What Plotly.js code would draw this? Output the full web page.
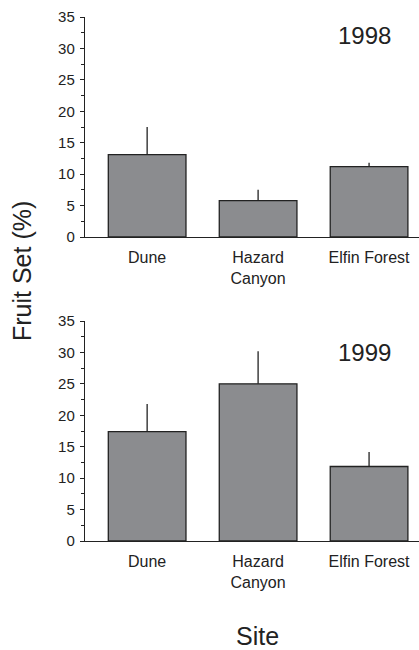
<!DOCTYPE html>
<html>
<head>
<meta charset="utf-8">
<script src="https://cdn.plot.ly/plotly-3.0.1.min.js"></script>
<style>html,body{margin:0;padding:0;background:#fff;}#chart{width:419px;height:650px;}</style>
</head>
<body>
<div id="chart"></div>
<script>
const sites = ["Dune", "Hazard<br>Canyon", "Elfin Forest"];
const fruitSet1998 = [13.1, 5.8, 11.2];
const err1998 = [4.4, 1.7, 0.6];
const fruitSet1999 = [17.4, 25.0, 11.85];
const err1999 = [4.4, 5.2, 2.3];
const yearLabels = ["1998", "1999"];
const yTicks = [0, 5, 10, 15, 20, 25, 30, 35];

const FONT = "Liberation Sans, Arial, Helvetica, sans-serif";
const barColor = "#8b8c8f";
const lineColor = "#222222";

function barTrace(vals, errs, xa, ya) {
  return {
    type: "bar",
    x: sites,
    y: vals,
    xaxis: xa,
    yaxis: ya,
    width: 0.7,
    marker: {color: barColor, line: {color: lineColor, width: 1.3}},
    error_y: {type: "data", symmetric: false, array: errs, arrayminus: errs.map(() => 0),
              color: lineColor, thickness: 1.3, width: 0},
    showlegend: false,
    hoverinfo: "none"
  };
}

const data = [
  barTrace(fruitSet1998, err1998, "x", "y"),
  barTrace(fruitSet1999, err1999, "x2", "y2")
];

function xAxis(anchor) {
  return {
    domain: [85/419, 1],
    anchor: anchor,
    type: "category",
    categoryorder: "array",
    categoryarray: sites,
    range: [-0.56, 2.45],
    showline: true,
    linecolor: lineColor,
    linewidth: 1.2,
    ticks: "",
    showgrid: false,
    zeroline: false,
    tickfont: {family: FONT, size: 16, color: "#222"},
    ticklabelstandoff: 6,
    fixedrange: true
  };
}
function yAxis(anchor, dom) {
  return {
    domain: dom,
    anchor: anchor,
    range: [0, 35],
    tickvals: yTicks,
    ticktext: yTicks.map(String),
    ticks: "outside",
    ticklen: 4,
    tickwidth: 1,
    tickcolor: lineColor,
    minor: {dtick: 2.5, tick0: 0, ticks: "outside", ticklen: 3, tickwidth: 1, tickcolor: lineColor, showgrid: false},
    showline: true,
    linecolor: lineColor,
    linewidth: 1.2,
    showgrid: false,
    zeroline: false,
    tickfont: {family: FONT, size: 15, color: "#222"},
    ticklabelstandoff: 2,
    fixedrange: true
  };
}

const layout = {
  width: 419,
  height: 650,
  margin: {l: 0, r: 0, t: 0, b: 0, pad: 0},
  paper_bgcolor: "#fff",
  plot_bgcolor: "#fff",
  bargap: 0.3,
  xaxis: xAxis("y"),
  yaxis: yAxis("x", [(650-237)/650, (650-17)/650]),
  xaxis2: xAxis("y2"),
  yaxis2: yAxis("x2", [(650-541)/650, (650-321)/650]),
  annotations: [
    {text: yearLabels[0], xref: "paper", yref: "paper", x: 364/419, y: (650-36)/650,
     xanchor: "center", yanchor: "middle", showarrow: false, font: {family: FONT, size: 24, color: "#222"}},
    {text: yearLabels[1], xref: "paper", yref: "paper", x: 364/419, y: (650-352)/650,
     xanchor: "center", yanchor: "middle", showarrow: false, font: {family: FONT, size: 24, color: "#222"}},
    {text: "Fruit Set (%)", xref: "paper", yref: "paper", x: 22/419, y: (650-271)/650,
     xanchor: "center", yanchor: "middle", textangle: -90, showarrow: false, font: {family: FONT, size: 25, color: "#222"}},
    {text: "Site", xref: "paper", yref: "paper", x: 257/419, y: (650-636)/650,
     xanchor: "center", yanchor: "middle", showarrow: false, font: {family: FONT, size: 25, color: "#222"}}
  ]
};

Plotly.newPlot("chart", data, layout, {staticPlot: true, displayModeBar: false});
</script>
</body>
</html>
